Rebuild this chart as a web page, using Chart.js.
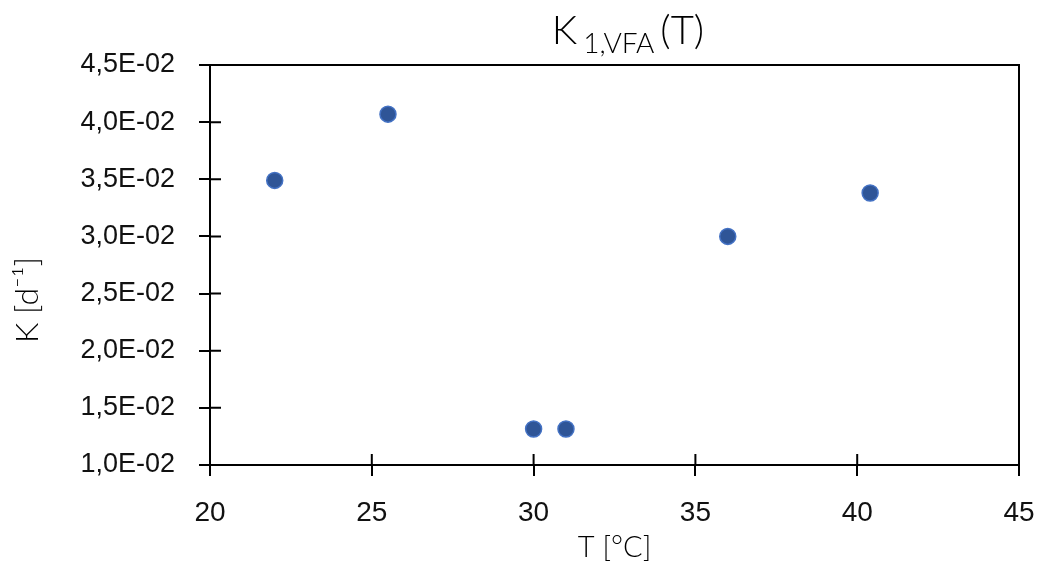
<!DOCTYPE html>
<html>
<head>
<meta charset="utf-8">
<script src="https://cdn.jsdelivr.net/npm/chart.js@4"></script>
<style>
	html, body { margin: 0; padding: 0; background: #fff; }
	#wrap { width: 1039px; height: 569px; }
</style>
</head>
<body>
<div id="wrap"><canvas id="chart"></canvas></div>
<script>
// temperature [°C] and rate constant K [1/d]
const temps = [22, 25.5, 30, 31, 36, 40.4];
const kValues = [0.0349, 0.0407, 0.01315, 0.01315, 0.0300, 0.0338];

const xTicks = [20, 25, 30, 35, 40, 45];
const yTicks = [0.01, 0.015, 0.02, 0.025, 0.03, 0.035, 0.04, 0.045];

const titleMain = "K";
const titleSub = "1,VFA";
const titleEnd = "(T)";
const xTitle = "T [°C]";
const yTitle = "K [d⁻¹]";

const labelFont = "'Liberation Sans Narrow', 'Liberation Sans', sans-serif";
const titleFont = "Lato, 'Noto Sans', sans-serif";

function sciComma(v) {
	// 0.045 -> "4,5E-02"
	let [m, e] = v.toExponential(1).split("e");
	let exp = parseInt(e, 10);
	let sign = exp < 0 ? "-" : "+";
	let digits = String(Math.abs(exp)).padStart(2, "0");
	return m.replace(".", ",") + "E" + sign + digits;
}

// box round the plot, ticks that cross the axes, the subscripted title, y title
const extras = {
	id: "extras",
	afterDraw(chart) {
		const ctx = chart.ctx;
		const area = chart.chartArea;
		const xs = chart.scales.x;
		const ys = chart.scales.y;
		ctx.save();
		ctx.strokeStyle = "#000";
		ctx.lineWidth = 2;
		ctx.beginPath();
		ctx.moveTo(area.left, area.top);
		ctx.lineTo(area.right, area.top);
		ctx.lineTo(area.right, area.bottom);
		ctx.stroke();

		ctx.beginPath();
		xs.ticks.forEach((t) => {
			const px = xs.getPixelForValue(t.value);
			ctx.moveTo(px, area.bottom);
			ctx.lineTo(px, area.bottom - 11);
		});
		ys.ticks.forEach((t) => {
			const py = ys.getPixelForValue(t.value);
			ctx.moveTo(area.left, py);
			ctx.lineTo(area.left + 11, py);
		});
		ctx.stroke();

		// title
		ctx.fillStyle = "#000";
		ctx.textBaseline = "alphabetic";
		ctx.font = "300 40px " + titleFont;
		const wMain = ctx.measureText(titleMain).width;
		const wEnd = ctx.measureText(titleEnd).width;
		ctx.font = "300 28px " + titleFont;
		const wSub = ctx.measureText(titleSub).width;
		const gap = 6;
		const total = wMain + gap + wSub + gap + wEnd;
		let x = 628 - total / 2;
		const base = 44;
		ctx.font = "300 40px " + titleFont;
		ctx.fillText(titleMain, x, base);
		x += wMain + gap;
		ctx.font = "300 28px " + titleFont;
		ctx.fillText(titleSub, x, base + 9);
		x += wSub + gap;
		ctx.font = "300 40px " + titleFont;
		ctx.fillText(titleEnd, x, base);

		// y axis title
		ctx.translate(28, 300);
		ctx.rotate(-Math.PI / 2);
		ctx.textAlign = "center";
		ctx.textBaseline = "middle";
		ctx.font = "300 32px " + titleFont;
		ctx.fillText(yTitle, 0, 0);
		ctx.restore();
	},
};

new Chart(document.getElementById("chart"), {
	type: "scatter",
	data: {
		datasets: [
			{
				label: "K",
				data: temps.map((t, i) => ({ x: t, y: kValues[i] })),
				pointRadius: 8,
				pointHoverRadius: 8,
				backgroundColor: "#2f5597",
				borderColor: "#4472c4",
				borderWidth: 1.5,
			},
		],
	},
	options: {
		responsive: true,
		maintainAspectRatio: false,
		animation: false,
		layout: {
			padding: { top: 65, right: 20, left: 0, bottom: 0 },
		},
		plugins: {
			legend: { display: false },
			tooltip: { enabled: false },
		},
		scales: {
			x: {
				type: "linear",
				min: 20,
				max: 45,
				afterBuildTicks(scale) {
					scale.ticks = xTicks.map((v) => ({ value: v }));
				},
				grid: {
					drawOnChartArea: false,
					drawTicks: true,
					tickLength: 11,
					color: "#000",
					lineWidth: 2,
				},
				border: { display: true, color: "#000", width: 2 },
				ticks: {
					padding: 20,
					color: "#111",
					font: { family: labelFont, size: 28 },
					maxRotation: 0,
				},
				title: {
					display: true,
					text: xTitle,
					color: "#000",
					padding: { top: 0, bottom: 4 },
					font: { family: titleFont, size: 29, weight: "300" },
				},
				afterFit(scale) {
					scale.height = 104;
					scale.paddingLeft = 0;
					scale.paddingRight = 0;
				},
			},
			y: {
				type: "linear",
				min: 0.01,
				max: 0.045,
				afterBuildTicks(scale) {
					scale.ticks = yTicks.map((v) => ({ value: v }));
				},
				grid: {
					drawOnChartArea: false,
					drawTicks: true,
					tickLength: 11,
					color: "#000",
					lineWidth: 2,
				},
				border: { display: true, color: "#000", width: 2 },
				ticks: {
					padding: 24,
					color: "#111",
					font: { family: labelFont, size: 27 },
					callback: (v) => sciComma(v),
				},
				afterFit(scale) {
					scale.width = 210;
					scale.paddingTop = 0;
					scale.paddingBottom = 0;
				},
			},
		},
	},
	plugins: [extras],
});
</script>
</body>
</html>
